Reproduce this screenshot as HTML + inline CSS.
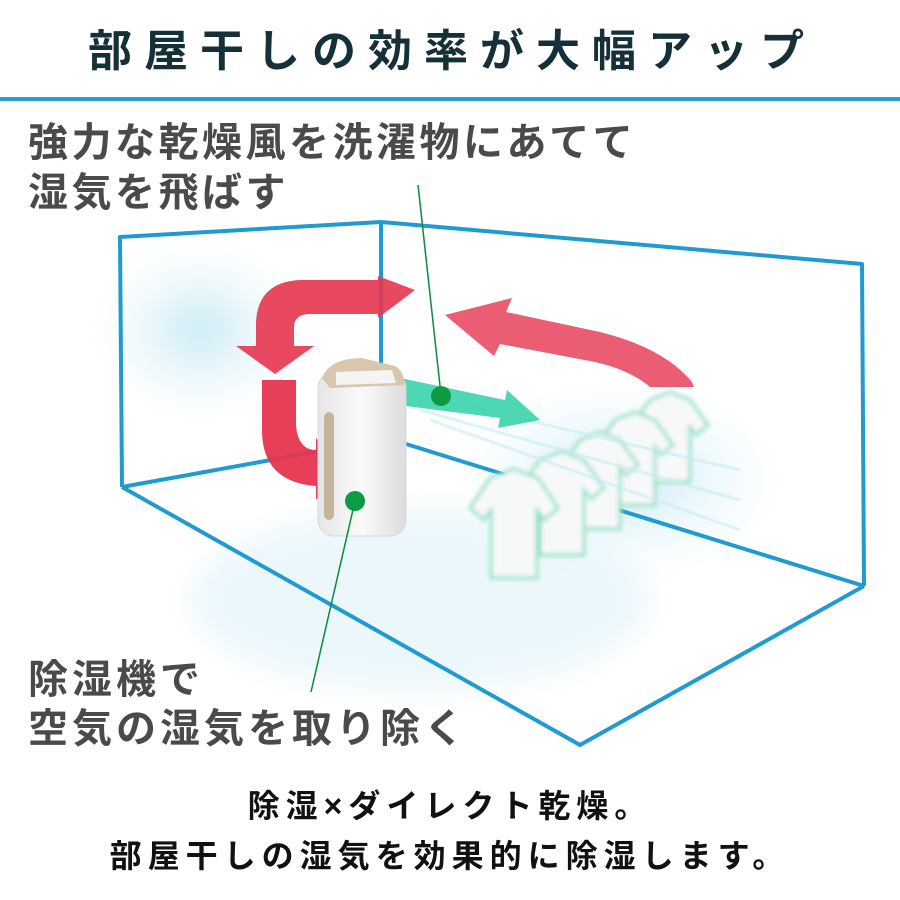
<!DOCTYPE html>
<html><head><meta charset="utf-8"><style>
html,body{margin:0;padding:0;background:#fff;}
body{width:900px;height:900px;overflow:hidden;position:relative;font-family:"Liberation Sans","Noto Sans CJK JP",sans-serif;}
.t{position:absolute;white-space:nowrap;}
</style></head><body>
<svg width="900" height="900" style="position:absolute;left:0;top:0">
<defs>
<radialGradient id="haze" cx="0.5" cy="0.5" r="0.5"><stop offset="0" stop-color="#bfe6f3" stop-opacity="0.9"/><stop offset="1" stop-color="#e8f6fb" stop-opacity="0"/></radialGradient>
<linearGradient id="dev" x1="0" x2="1"><stop offset="0" stop-color="#e6e6e6"/><stop offset="0.5" stop-color="#fafafa"/><stop offset="1" stop-color="#dcdcdc"/></linearGradient>
<filter id="bl"><feGaussianBlur stdDeviation="14"/></filter>
<filter id="bl2"><feGaussianBlur stdDeviation="2"/></filter>
</defs>
<rect x="0" y="97" width="900" height="4" fill="#2a9fc9"/>
<ellipse cx="200" cy="330" rx="110" ry="90" fill="url(#haze)" filter="url(#bl)"/>
<ellipse cx="620" cy="480" rx="170" ry="100" fill="url(#haze)" filter="url(#bl)"/>
<ellipse cx="420" cy="600" rx="230" ry="90" fill="#e4f4fa" opacity="0.7" filter="url(#bl)"/>
<g stroke="#1f9bd0" stroke-width="4" fill="none" stroke-linejoin="round">
<polyline points="122,487 120,237 381,222 862,264 864,586"/>
<line x1="381" y1="222" x2="381" y2="440"/>
<polyline points="122,487 381,440"/>
<polyline points="406,444 864,586"/>
<polyline points="122,487 580,745 864,586"/>
</g>
<g fill="#e6354f">
<path d="M415,290 L378,276 L378,280 L300,280 Q258,282 256,322 L256,346 L236,346 L275,374 L314,346 L294,346 L294,325 Q296,314 310,314 L378,314 L378,318 Z" opacity="0.9"/>
<path d="M262,380 L296,380 L296,425 Q298,450 316,450 L316,438 L340,470 L316,500 L316,486 Q262,482 262,430 Z" opacity="0.95"/>
<path d="M445,315 L512,298 L506,312 L600,332 Q664,348 692,382 L694,387 L650,387 Q630,370 595,362 L500,344 L494,356 Z" opacity="0.8"/>
</g>
<g fill="#f6f8f9" stroke="#8fe0c2" stroke-width="3" filter="url(#bl2)">
<path d="M650,400 l20,-8 l20,8 l18,25 l-12,10 l-6,-8 l0,55 l-40,0 l0,-55 l-6,8 l-12,-10 z"/>
<path d="M615,420 l20,-8 l20,8 l18,25 l-12,10 l-6,-8 l0,58 l-40,0 l0,-58 l-6,8 l-12,-10 z"/>
<path d="M580,440 l20,-8 l20,8 l18,25 l-12,10 l-6,-8 l0,62 l-40,0 l0,-62 l-6,8 l-12,-10 z"/>
<path d="M540,460 l22,-9 l22,9 l20,28 l-13,11 l-7,-9 l0,65 l-44,0 l0,-65 l-7,9 l-13,-11 z"/>
<path d="M490,478 l24,-9 l24,9 l20,30 l-14,12 l-7,-10 l0,68 l-46,0 l0,-68 l-7,10 l-14,-12 z"/>
</g>
<g stroke="#c8ecf7" stroke-width="3" opacity="0.6">
<line x1="420" y1="410" x2="740" y2="500"/><line x1="430" y1="420" x2="740" y2="530"/><line x1="440" y1="400" x2="740" y2="470"/>
</g>
<path d="M400,378 L505,400 L507,390 L540,420 L498,428 L500,418 L398,405 Z" fill="#2fd0a8" opacity="0.85"/>
<rect x="318" y="372" width="88" height="164" rx="16" fill="url(#dev)" stroke="#d8d8d8"/>
<path d="M322,378 Q330,358 362,358 L395,366 Q405,372 404,385 L330,388 Z" fill="#d8c6ae"/>
<path d="M336,372 L392,370 L396,383 L336,385 Z" fill="#f4f4f4"/>
<rect x="324" y="412" width="10" height="108" rx="5" fill="#c5b49c"/>
<g stroke="#0a8a3a" stroke-width="1.5"><line x1="418" y1="185" x2="441" y2="395"/><line x1="355" y1="501" x2="311" y2="692"/></g>
<circle cx="441" cy="396" r="10" fill="#0d9a45"/>
<circle cx="355" cy="501" r="10" fill="#0d9a45"/>
</svg>
<div class="t" style="left:88px;top:22px;font-size:44px;font-weight:bold;letter-spacing:12px;color:#16303a;line-height:60px">部屋干しの効率が大幅アップ</div>
<div class="t" style="left:28px;top:118px;font-size:40px;font-weight:bold;letter-spacing:3.5px;color:#4a4a4a;line-height:50px">強力な乾燥風を洗濯物にあてて<br>湿気を飛ばす</div>
<div class="t" style="left:28px;top:656px;font-size:40px;font-weight:bold;letter-spacing:4px;color:#4a4a4a;line-height:49px">除湿機で<br>空気の湿気を取り除く</div>
<div class="t" style="left:0;width:900px;text-align:center;top:781px;font-size:32px;font-weight:bold;letter-spacing:6px;color:#111;line-height:50px">除湿×ダイレクト乾燥。<br>部屋干しの湿気を効果的に除湿します。</div>
</body></html>
